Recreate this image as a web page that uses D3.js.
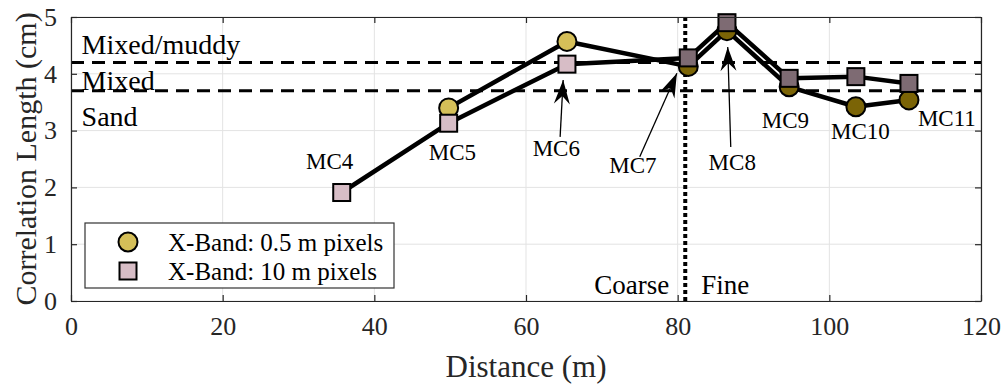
<!DOCTYPE html>
<html>
<head>
<meta charset="utf-8">
<script src="https://cdn.jsdelivr.net/npm/d3@7"></script>
<style>
  body { margin: 0; background: #fff; }
  svg { display: block; font-family: "Liberation Serif", "Times New Roman", serif; }
</style>
</head>
<body>
<svg id="chart" width="1004" height="384"></svg>
<script>
// datos
var sites = ['MC4', 'MC5', 'MC6', 'MC7', 'MC8', 'MC9', 'MC10', 'MC11'];
var distance = [35.7, 49.8, 65.4, 81.4, 86.5, 94.7, 103.5, 110.5];
var fineValues = [null, 3.40, 4.57, 4.13, 4.76, 3.77, 3.42, 3.54];   // 0.5 m pixels
var coarseValues = [1.91, 3.13, 4.17, 4.28, 4.90, 3.92, 3.95, 3.83]; // 10 m pixels
var xTicks = [0, 20, 40, 60, 80, 100, 120];
var yTicks = [0, 1, 2, 3, 4, 5];
var thresholds = [4.2, 3.7];
var boundary = 81;
var regionNames = ['Mixed/muddy', 'Mixed', 'Sand'];
var regionY = [4.51, 3.89, 3.24];
var legendNames = ['X-Band: 0.5 m pixels', 'X-Band: 10 m pixels'];
// etiquetas de sitio (coordenadas en unidades de datos)
var labelX = [34.1, 50.3, 64.0, 74.1, 87.2, 94.2, 104.1, 115.5];
var labelY = [2.46, 2.62, 2.68, 2.38, 2.43, 3.17, 2.98, 3.22];
var arrows = [
  {from: [64.5, 2.89], to: [64.9, 3.89]},
  {from: [75.0, 2.54], to: [79.9, 4.01]},
  {from: [87.0, 2.71], to: [86.6, 4.47]}
];

var svg = d3.select('#chart');
var margin = {top: 17, right: 23, bottom: 83, left: 71},
    width = 1004 - margin.left - margin.right,
    height = 384 - margin.top - margin.bottom;

var x = d3.scaleLinear().domain([0, 120]).range([0, width]);
var y = d3.scaleLinear().domain([0, 5]).range([height, 0]);

var g = svg.append('g').attr('transform', 'translate(' + margin.left + ',' + margin.top + ')');

// colores: antes / despues del limite grueso-fino
var circleFill = function(i) { return distance[i] < boundary ? '#d5bf58' : '#7b6406'; };
var squareFill = function(i) { return distance[i] < boundary ? '#d7bdc6' : '#7e6b73'; };

// grilla
g.append('g').selectAll('line.gx').data(xTicks).enter().append('line')
  .attr('x1', x).attr('x2', x).attr('y1', 0).attr('y2', height)
  .attr('stroke', '#e3e3e3').attr('stroke-width', 1);
g.append('g').selectAll('line.gy').data(yTicks).enter().append('line')
  .attr('x1', 0).attr('x2', width).attr('y1', y).attr('y2', y)
  .attr('stroke', '#e3e3e3').attr('stroke-width', 1);

// umbrales
g.selectAll('line.thr').data(thresholds).enter().append('line')
  .attr('x1', 0).attr('x2', width).attr('y1', y).attr('y2', y)
  .attr('stroke', '#000').attr('stroke-width', 3).attr('stroke-dasharray', '13,8');

// limite grueso / fino
g.append('line')
  .attr('x1', x(boundary)).attr('x2', x(boundary)).attr('y1', 0).attr('y2', height)
  .attr('stroke', '#000').attr('stroke-width', 4).attr('stroke-dasharray', '4,3');

var idx = d3.range(sites.length);
var lineFine = d3.line()
  .defined(function(i) { return fineValues[i] !== null; })
  .x(function(i) { return x(distance[i]); })
  .y(function(i) { return y(fineValues[i]); });
var lineCoarse = d3.line()
  .x(function(i) { return x(distance[i]); })
  .y(function(i) { return y(coarseValues[i]); });

g.append('path').attr('d', lineFine(idx)).attr('fill', 'none')
  .attr('stroke', '#000').attr('stroke-width', 4.5).attr('stroke-linejoin', 'round');
g.append('path').attr('d', lineCoarse(idx)).attr('fill', 'none')
  .attr('stroke', '#000').attr('stroke-width', 4.5).attr('stroke-linejoin', 'round');

g.selectAll('circle.fine').data(idx.filter(function(i) { return fineValues[i] !== null; }))
  .enter().append('circle')
  .attr('cx', function(i) { return x(distance[i]); })
  .attr('cy', function(i) { return y(fineValues[i]); })
  .attr('r', 9.5)
  .attr('fill', circleFill).attr('stroke', '#000').attr('stroke-width', 2);

var sq = 17;
g.selectAll('rect.coarse').data(idx).enter().append('rect')
  .attr('x', function(i) { return x(distance[i]) - sq / 2; })
  .attr('y', function(i) { return y(coarseValues[i]) - sq / 2; })
  .attr('width', sq).attr('height', sq)
  .attr('fill', squareFill).attr('stroke', '#000').attr('stroke-width', 2);

// flechas
var arrowHead = function(a) {
  var x0 = x(a.from[0]), y0 = y(a.from[1]), x1 = x(a.to[0]), y1 = y(a.to[1]);
  var ang = Math.atan2(y1 - y0, x1 - x0);
  var L = 24, W = 8, notch = 16;
  var p = function(dl, dw) {
    return [x1 - dl * Math.cos(ang) - dw * Math.sin(ang), y1 - dl * Math.sin(ang) + dw * Math.cos(ang)];
  };
  return [p(0, 0), p(L, W), p(notch, 0), p(L, -W)];
};
arrows.forEach(function(a) {
  g.append('line')
    .attr('x1', x(a.from[0])).attr('y1', y(a.from[1]))
    .attr('x2', x(a.to[0])).attr('y2', y(a.to[1]))
    .attr('stroke', '#000').attr('stroke-width', 1.3);
  g.append('polygon').attr('points', arrowHead(a).join(' ')).attr('fill', '#000');
});

// etiquetas de sitio
g.selectAll('text.site').data(idx).enter().append('text')
  .attr('x', function(i) { return x(labelX[i]); })
  .attr('y', function(i) { return y(labelY[i]); })
  .attr('text-anchor', 'middle').attr('dominant-baseline', 'central')
  .attr('font-size', 23).attr('fill', '#000')
  .text(function(i) { return sites[i]; });

// etiquetas de tipo de sedimento
g.selectAll('text.region').data(regionNames).enter().append('text')
  .attr('x', x(1.4)).attr('y', function(d, i) { return y(regionY[i]); })
  .attr('dominant-baseline', 'central').attr('font-size', 28).attr('fill', '#000')
  .text(function(d) { return d; });

g.append('text').attr('x', x(boundary) - 16).attr('y', y(0.28))
  .attr('text-anchor', 'end').attr('dominant-baseline', 'central')
  .attr('font-size', 27).text('Coarse');
g.append('text').attr('x', x(boundary) + 16).attr('y', y(0.28))
  .attr('dominant-baseline', 'central')
  .attr('font-size', 27).text('Fine');

// ejes
var xAxis = d3.axisBottom(x).tickValues(xTicks).tickSizeInner(-6).tickSizeOuter(0).tickPadding(16);
var yAxis = d3.axisLeft(y).tickValues(yTicks).tickFormat(d3.format('d'))
  .tickSizeInner(-6).tickSizeOuter(0).tickPadding(14);

var gx = g.append('g').attr('transform', 'translate(0,' + height + ')').call(xAxis);
var gy = g.append('g').call(yAxis);
g.append('g').call(d3.axisTop(x).tickValues(xTicks).tickSizeInner(-6).tickSizeOuter(0).tickFormat(''));
g.append('g').attr('transform', 'translate(' + width + ',0)')
  .call(d3.axisRight(y).tickValues(yTicks).tickSizeInner(-6).tickSizeOuter(0).tickFormat(''));

g.selectAll('.domain, .tick line').attr('stroke', '#262626').attr('stroke-width', 1.2);
g.selectAll('.tick text').attr('fill', '#262626').attr('font-size', 26)
  .attr('font-family', '"Liberation Serif", "Times New Roman", serif');

svg.append('text')
  .attr('x', margin.left + width / 2).attr('y', 366)
  .attr('text-anchor', 'middle').attr('dominant-baseline', 'central')
  .attr('font-size', 31).attr('fill', '#262626').text('Distance (m)');
svg.append('text')
  .attr('transform', 'translate(25,' + (margin.top + height / 2) + ') rotate(-90)')
  .attr('text-anchor', 'middle').attr('dominant-baseline', 'central')
  .attr('font-size', 30).attr('fill', '#262626').text('Correlation Length (cm)');

// leyenda
var leg = svg.append('g').attr('transform', 'translate(85,223)');
leg.append('rect').attr('width', 309).attr('height', 65)
  .attr('fill', '#fff').attr('stroke', '#333').attr('stroke-width', 1.2);
leg.append('circle').attr('cx', 43).attr('cy', 19).attr('r', 9.5)
  .attr('fill', circleFill(1)).attr('stroke', '#000').attr('stroke-width', 2);
leg.append('rect').attr('x', 43 - sq / 2).attr('y', 48 - sq / 2).attr('width', sq).attr('height', sq)
  .attr('fill', squareFill(1)).attr('stroke', '#000').attr('stroke-width', 2);
leg.selectAll('text').data(legendNames).enter().append('text')
  .attr('x', 83).attr('y', function(d, i) { return 19 + i * 29; })
  .attr('dominant-baseline', 'central').attr('font-size', 25).attr('fill', '#000')
  .text(function(d) { return d; });
</script>
</body>
</html>
